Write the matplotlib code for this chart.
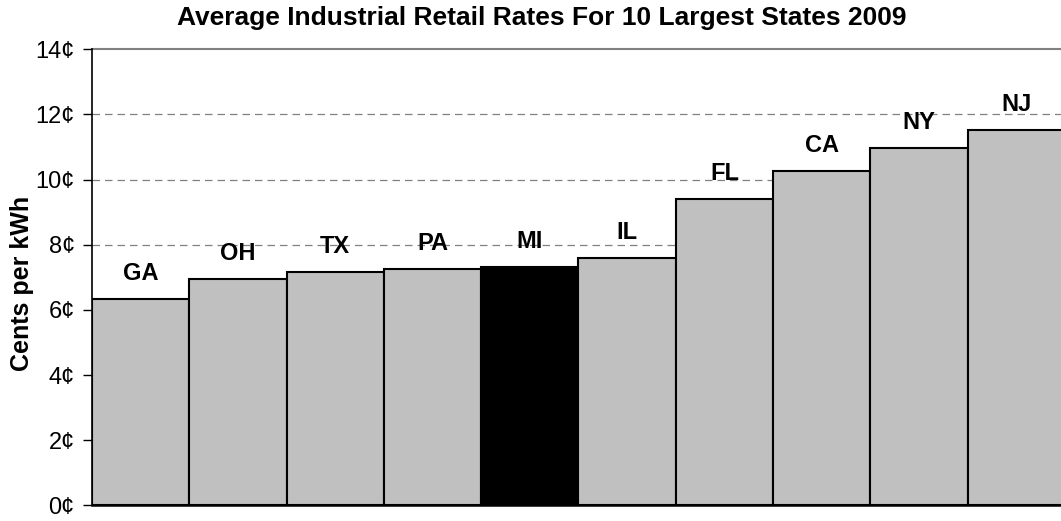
import matplotlib
matplotlib.use("Agg")
import matplotlib.pyplot as plt
from matplotlib.ticker import FuncFormatter

plt.rcParams['font.family'] = ['Liberation Sans', 'DejaVu Sans']

states = ["GA", "OH", "TX", "PA", "MI", "IL", "FL", "CA", "NY", "NJ"]
rates = [6.32, 6.95, 7.16, 7.25, 7.31, 7.60, 9.39, 10.25, 10.98, 11.53]
highlight = "MI"
yticks = [0, 2, 4, 6, 8, 10, 12, 14]

fig = plt.figure(figsize=(10.61, 5.21), dpi=100)
ax = fig.add_axes([92/1061, (521-505.3)/521, (1061-92)/1061, (505.3-49.3)/521])

x = list(range(len(states)))
colors = ["black" if s == highlight else "#c0c0c0" for s in states]
ax.bar(x, rates, width=1.0, color=colors, edgecolor="black", linewidth=1.5, zorder=3)

for xi, s, r in zip(x, states, rates):
    ax.annotate(s, (xi, r), xytext=(0, 13.7), textcoords="offset points",
                ha="center", va="baseline", fontsize=17, fontweight="bold", zorder=4)

ax.set_ylim(0, 14)
ax.set_xlim(-0.5, 9.46)
ax.set_yticks(yticks)
ax.yaxis.set_major_formatter(FuncFormatter(lambda v, p: f"{int(v)}\u00a2"))
ax.set_xticks([])
for yv in yticks[1:-1]:
    ax.axhline(yv, color="#808080", linestyle=(0, (6, 4)), linewidth=0.9, zorder=1)
ax.axhline(14, color="#808080", linewidth=1.5, zorder=1, clip_on=False)

for side in ["top", "right"]:
    ax.spines[side].set_visible(False)
ax.spines["left"].set_linewidth(1.2)
ax.spines["bottom"].set_linewidth(1.8)
ax.spines["bottom"].set_zorder(5)
ax.tick_params(axis="y", length=6.5, width=1.0, labelsize=17, pad=6)

fig.text(22/1061, 1 - 283/521, "Cents per kWh", rotation=90, ha="center", va="center",
         fontsize=18, fontweight="bold")
fig.text(542/1061, 1 - 18.5/521, "Average Industrial Retail Rates For 10 Largest States 2009",
         ha="center", va="center", fontsize=19, fontweight="bold")

fig.savefig("out.png", dpi=100)
